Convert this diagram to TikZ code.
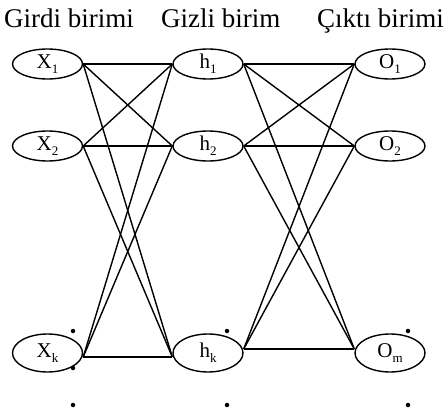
\documentclass[tikz,border=0pt]{standalone}
\usepackage{fontspec}
\setmainfont{Liberation Serif}
\usetikzlibrary{shapes.geometric,calc}
\begin{document}
\begin{tikzpicture}[x=1pt,y=-1pt,
  unit/.style={draw, line width=1.4pt, ellipse, inner sep=0pt, minimum width=70pt, minimum height=#1, font=\fontsize{21}{24}\selectfont},
  unit/.default=30pt,
  link/.style={line width=1.4pt},
  hdr/.style={font=\fontsize{27}{31}\selectfont, anchor=base west, inner sep=0pt},
  dotm/.style={circle, fill, inner sep=0pt, minimum size=4.5pt}]
\useasboundingbox (0,0) rectangle (445,412);
\newcommand{\sbs}[1]{\raisebox{-0.25em}{\fontsize{13}{15}\selectfont #1}}
% headers
\node[hdr] (t1) at (4,28) {Girdi birimi};
\node[hdr] (t2) at (161,28) {Gizli birim};
\node[hdr] (t3) at (317,28) {Çıktı birimi};
% units
\node[unit] (x1) at (47.5,64) {X\sbs{1}};
\node[unit] (x2) at (47.5,146) {X\sbs{2}};
\node[unit=38pt] (xk) at (47.5,353) {X\sbs{k}};
\node[unit] (h1) at (208,64) {h\sbs{1}};
\node[unit] (h2) at (208,146) {h\sbs{2}};
\node[unit=38pt] (hk) at (208,353) {h\sbs{k}};
\node[unit] (o1) at (390,64) {O\sbs{1}};
\node[unit] (o2) at (390,146) {O\sbs{2}};
\node[unit=38pt] (om) at (390,353) {O\sbs{m}};
% connection points
\coordinate (xke) at ($(xk.east)+(0,4)$);
\coordinate (hkw) at ($(hk.west)+(0,4)$);
\coordinate (hke) at ($(hk.east)+(0,-4)$);
\coordinate (omw) at ($(om.west)+(0,-4)$);
% input to hidden
\foreach \a/\b in {x1.east/h1.west, x1.east/h2.west, x1.east/hkw,
                   x2.east/h1.west, x2.east/h2.west, x2.east/hkw,
                   xke/h1.west, xke/h2.west, xke/hkw}
  \draw[link] (\a) -- (\b);
% hidden to output
\foreach \a/\b in {h1.east/o1.west, h1.east/o2.west, h1.east/omw,
                   h2.east/o1.west, h2.east/o2.west, h2.east/omw,
                   hke/o1.west, hke/o2.west, hke/omw}
  \draw[link] (\a) -- (\b);
% dots
\node[dotm] (d1) at (73,331) {};
\node[dotm] (d2) at (73,368) {};
\node[dotm] (d3) at (73,405) {};
\node[dotm] (d4) at (227,331) {};
\node[dotm] (d5) at (227,405) {};
\node[dotm] (d6) at (408,331) {};
\node[dotm] (d7) at (408,405) {};
\end{tikzpicture}
\end{document}
